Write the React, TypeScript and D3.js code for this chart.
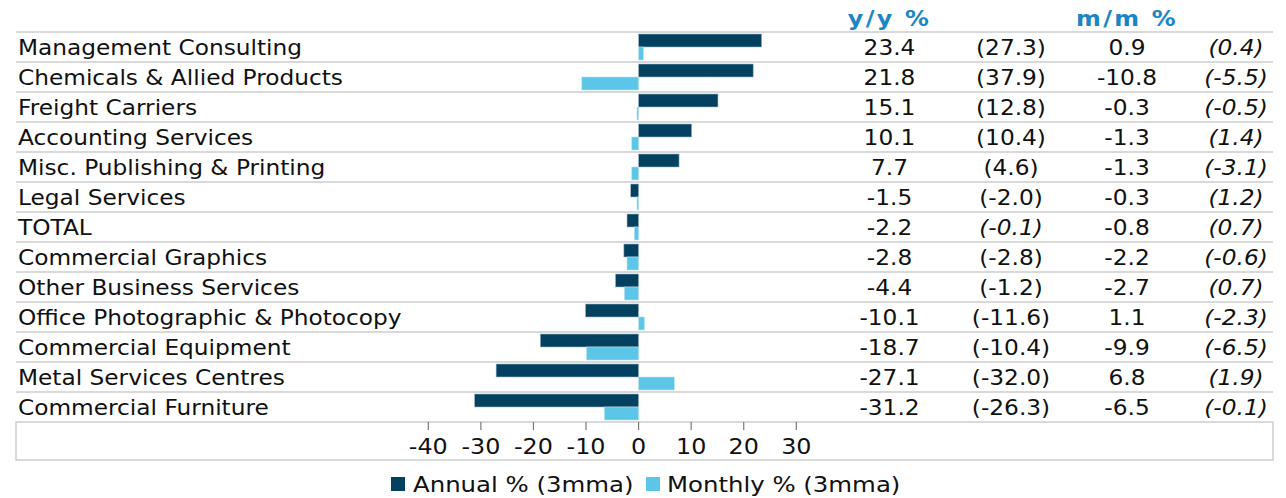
import React from "react";
import * as d3 from "d3";

const categories = [
  "Management Consulting",
  "Chemicals & Allied Products",
  "Freight Carriers",
  "Accounting Services",
  "Misc. Publishing & Printing",
  "Legal Services",
  "TOTAL",
  "Commercial Graphics",
  "Other Business Services",
  "Office Photographic & Photocopy",
  "Commercial Equipment",
  "Metal Services Centres",
  "Commercial Furniture",
];
const annual = [23.4, 21.8, 15.1, 10.1, 7.7, -1.5, -2.2, -2.8, -4.4, -10.1, -18.7, -27.1, -31.2];
const annualPrev = [27.3, 37.9, 12.8, 10.4, 4.6, -2.0, -0.1, -2.8, -1.2, -11.6, -10.4, -32.0, -26.3];
const monthly = [0.9, -10.8, -0.3, -1.3, -1.3, -0.3, -0.8, -2.2, -2.7, 1.1, -9.9, 6.8, -6.5];
const monthlyPrev = [0.4, -5.5, -0.5, 1.4, -3.1, 1.2, 0.7, -0.6, 0.7, -2.3, -6.5, 1.9, -0.1];
const annualPrevItalic = [false, false, false, false, false, false, true, false, false, false, false, false, false];
const xTicks = [-40, -30, -20, -10, 0, 10, 20, 30];
const seriesNames = ["Annual % (3mma)", "Monthly % (3mma)"];
const headers = ["y/y %", "m/m %"];

const W = 1286;
const H = 498;
const NAVY = "#04405f";
const LIGHT = "#5bc6e8";
const HEAD = "#1a86c6";
const GRID = "#cdcdcd";
const SX = 1.135;
const FONT = "'DejaVu Sans', Verdana, sans-serif";

const T = ({ x, y, children, anchor = "start", size = 20.5, italic = false, bold = false, fill = "#111", ls = 0 }: any) => (
  <text
    transform={`translate(${x},${y}) scale(${SX},1)`}
    textAnchor={anchor}
    fontSize={size}
    fontStyle={italic ? "italic" : "normal"}
    fontWeight={bold ? "bold" : "normal"}
    fill={fill}
    letterSpacing={ls}
    fontFamily={FONT}
  >
    {children}
  </text>
);

const fmt = (v: number) => v.toFixed(1);
const fmtP = (v: number) => `(${v.toFixed(1)})`;

export default function App() {
  const left = 16;
  const right = 1273;
  const top = 32;
  const rowH = 30;
  const bottom = top + rowH * categories.length;
  const axisBottom = 460;

  const x = d3.scaleLinear().domain([-40, 30]).range([428.3, 796.3]);
  const y = d3.scaleBand<string>().domain(categories).range([top, bottom]).padding(0);
  const sub = d3.scaleBand<string>().domain(seriesNames).range([2, 28]).padding(0);
  const series = [annual, monthly];
  const colors = [NAVY, LIGHT];

  const colX = [889.5, 1011, 1127, 1236];

  return (
    <svg width={W} height={H} style={{ position: "absolute", left: 0, top: 0, background: "#fff" }}>
      {/* headers */}
      <T x={colX[0]} y={26} anchor="middle" bold fill={HEAD} size={21} ls={2}>{headers[0]}</T>
      <T x={colX[2]} y={26} anchor="middle" bold fill={HEAD} size={21} ls={2}>{headers[1]}</T>

      {/* row lines */}
      {categories.map((c, i) => (
        <line key={"l" + i} x1={left} x2={right} y1={y(c)!} y2={y(c)!} stroke={GRID} strokeWidth={1.5} />
      ))}
      {/* axis box */}
      <rect x={left} y={bottom} width={right - left} height={axisBottom - bottom} fill="none" stroke={GRID} strokeWidth={1.5} />

      {/* bars */}
      {series.map((vals, s) =>
        vals.map((v, i) => {
          const y0 = y(categories[i])! + sub(seriesNames[s])!;
          const x0 = x(Math.min(0, v));
          const w = Math.abs(x(v) - x(0));
          return (
            <rect
              key={`b${s}-${i}`}
              x={x0}
              y={y0}
              width={Math.max(w, 1)}
              height={sub.bandwidth()}
              fill={colors[s]}
              stroke={s === 0 ? "#9fb8c8" : "#b5e3f2"}
              strokeWidth={0.6}
            />
          );
        })
      )}

      {/* labels and values */}
      {categories.map((c, i) => {
        const by = y(c)! + 23;
        return (
          <g key={"t" + i}>
            <T x={18} y={by}>{c}</T>
            <T x={colX[0]} y={by} anchor="middle">{fmt(annual[i])}</T>
            <T x={colX[1]} y={by} anchor="middle" italic={annualPrevItalic[i]}>{fmtP(annualPrev[i])}</T>
            <T x={colX[2]} y={by} anchor="middle">{fmt(monthly[i])}</T>
            <T x={colX[3]} y={by} anchor="middle" italic>{fmtP(monthlyPrev[i])}</T>
          </g>
        );
      })}

      {/* x axis ticks */}
      {xTicks.map((t) => (
        <g key={"x" + t}>
          <line x1={x(t)} x2={x(t)} y1={bottom} y2={bottom + 8} stroke="#7a7a7a" strokeWidth={1.2} />
          <T x={x(t)} y={454} anchor="middle" size={21}>{String(t)}</T>
        </g>
      ))}

      {/* legend */}
      <rect x={391} y={477} width={14} height={14} fill={NAVY} />
      <T x={413} y={492} size={21.5}>{seriesNames[0]}</T>
      <rect x={646} y={477} width={14} height={14} fill={LIGHT} />
      <T x={667} y={492} size={21.5}>{seriesNames[1]}</T>
    </svg>
  );
}
